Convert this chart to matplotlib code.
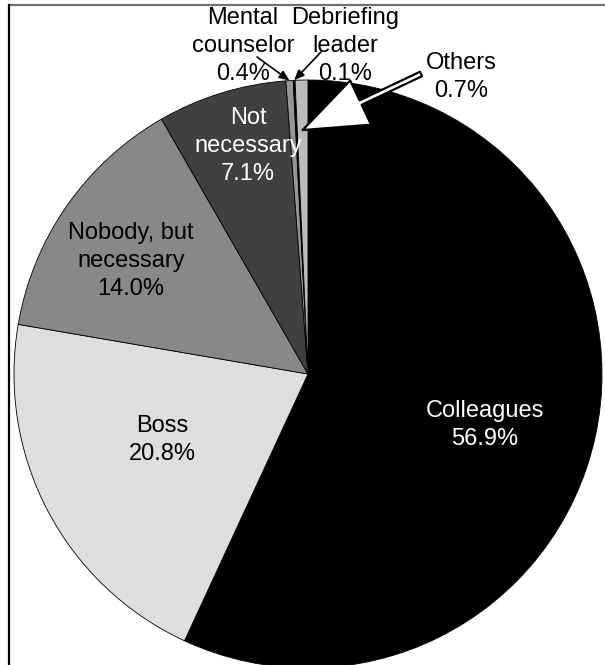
import numpy as np
import matplotlib
matplotlib.use('Agg')
import matplotlib.pyplot as plt
from matplotlib.lines import Line2D

plt.rcParams['font.family'] = ['Liberation Sans', 'DejaVu Sans']

labels = ["Colleagues", "Boss", "Nobody, but\nnecessary", "Not\nnecessary",
          "Mental\ncounselor", "Debriefing\nleader", "Others"]
shares = [56.9, 20.8, 14.0, 7.1, 0.4, 0.1, 0.7]
colors = ["#000000", "#dedede", "#888888", "#404040", "#959595", "#000000", "#bbbbbb"]

W, H = 605, 665
cx, cy, R = 308, 374, 294

fig = plt.figure(figsize=(W / 100, H / 100), dpi=100)
ax = fig.add_axes([0, 0, 1, 1])

# pie drawn in pixel coordinates (y axis points down, so go "counterclock"
# in data space to get a clockwise pie on screen)
wedges, _ = ax.pie(shares, colors=colors, startangle=-90, counterclock=True,
                   center=(cx, cy), radius=R, frame=True,
                   wedgeprops=dict(edgecolor='black', linewidth=0.6))
ax.set_xlim(0, W)
ax.set_ylim(H, 0)
ax.set_aspect('equal')
ax.axis('off')


def wedge_point(i, frac):
    w = wedges[i]
    a = np.deg2rad((w.theta1 + w.theta2) / 2)
    return cx + frac * R * np.cos(a), cy + frac * R * np.sin(a)


fs = 17
txt = dict(ha='center', va='center', fontsize=fs, linespacing=1.35)

# labels inside the slices
ax.text(485, 425, "Colleagues\n56.9%", color='white', **txt)
ax.text(162, 440, "Boss\n20.8%", color='black', **txt)
ax.text(131, 261, "Nobody, but\nnecessary\n14.0%", color='black', **txt)
ax.text(248, 146, "Not\nnecessary\n7.1%", color='white', **txt)

# small slices get labels outside with arrows
ax.text(243, 46, "Mental\ncounselor\n0.4%", **txt)
ax.text(345, 46, "Debriefing\nleader\n0.1%", **txt)
ax.text(461, 77, "Others\n0.7%", **txt)

tip = wedge_point(4, 1.0)
ax.annotate("", xy=tip, xytext=(257, 57),
            arrowprops=dict(arrowstyle='-|>,head_length=0.6,head_width=0.25',
                            color='black', lw=1.2, shrinkA=0, shrinkB=0))
tip = wedge_point(5, 1.0)
ax.annotate("", xy=tip, xytext=(321, 52),
            arrowprops=dict(arrowstyle='-|>,head_length=0.6,head_width=0.25',
                            color='black', lw=1.2, shrinkA=0, shrinkB=0))
tip = wedge_point(6, 0.83)
ax.annotate("", xy=tip, xytext=(421, 74),
            arrowprops=dict(arrowstyle='simple,head_length=2.1,head_width=1.6,tail_width=0.16',
                            fc='white', ec='black', lw=1.6,
                            shrinkA=0, shrinkB=0, mutation_scale=22))

# frame lines: top and left
fig.add_artist(Line2D([9 / W, 1], [1 - 5 / H, 1 - 5 / H], color='#707070', lw=1.6))
fig.add_artist(Line2D([9 / W, 9 / W], [0, 1 - 5 / H], color='black', lw=1.6))

fig.savefig("out.png", dpi=100)
